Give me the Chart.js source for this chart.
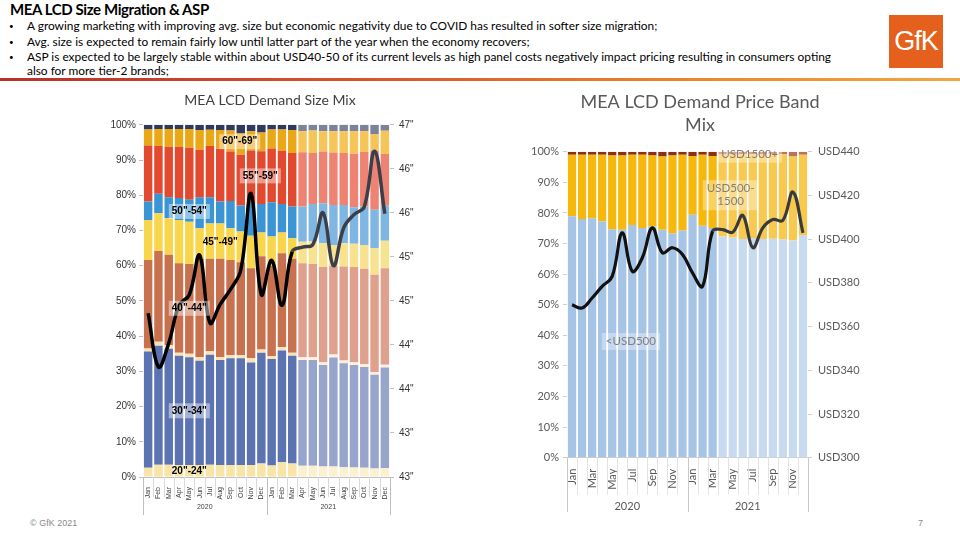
<!DOCTYPE html>
<html><head><meta charset="utf-8">
<script src="https://cdn.jsdelivr.net/npm/chart.js@4/dist/chart.umd.min.js"></script>
<style>
body{margin:0;width:960px;height:540px;background:#fff;position:relative;overflow:hidden;font-family:Lato,'Liberation Sans',sans-serif;}
#ttl{position:absolute;left:10px;top:0px;font-weight:bold;font-size:15px;letter-spacing:-0.4px;color:#000;white-space:nowrap;}
.bl{position:absolute;left:27px;font-size:11.9px;color:#000;white-space:nowrap;}
.bl .d{position:absolute;left:-18px;font-size:8px;top:3px;}
#rule{position:absolute;left:0;top:78px;width:960px;height:3px;background:linear-gradient(90deg,#b8302a 0%,#d9572a 40%,#ec8a2c 75%,#f2a641 100%);}
#logo{position:absolute;left:889px;top:15px;width:54px;height:53px;background:#e5601c;color:#fff;font-size:27px;font-family:'Liberation Sans Narrow','Liberation Sans',sans-serif;line-height:53px;text-align:center;letter-spacing:-1px;}
#foot{position:absolute;left:30px;top:518px;font-size:9px;color:#8a8a8a;font-family:'Liberation Sans',sans-serif;}
#pg{position:absolute;left:918px;top:518px;font-size:9px;color:#8a8a8a;font-family:'Liberation Sans',sans-serif;}
canvas{position:absolute;}
</style></head>
<body>
<div id="ttl">MEA LCD Size Migration &amp; ASP</div>
<div class="bl" style="top:18px"><span class="d">•</span>A growing marketing with improving avg. size but economic negativity due to COVID has resulted in softer size migration;</div>
<div class="bl" style="top:34px"><span class="d">•</span>Avg. size is expected to remain fairly low until latter part of the year when the economy recovers;</div>
<div class="bl" style="top:49px"><span class="d">•</span>ASP is expected to be largely stable within about USD40-50 of its current levels as high panel costs negatively impact pricing resulting in consumers opting</div>
<div class="bl" style="top:63px">also for more tier-2 brands;</div>
<div id="rule"></div>
<div id="logo">GfK</div>
<div id="foot">© GfK 2021</div>
<div id="pg">7</div>
<canvas id="c1" width="340" height="432" style="left:100px;top:88px"></canvas>
<canvas id="c2" width="360" height="435" style="left:520px;top:85px"></canvas>
<script>
// ---------- DATA ----------
const categories = ['Jan','Feb','Mar','Apr','May','Jun','Jul','Aug','Sep','Oct','Nov','Dec',
                    'Jan','Feb','Mar','Apr','May','Jun','Jul','Aug','Sep','Oct','Nov','Dec'];
const years = ['2020','2021'];
const forecastStart = 15; // Apr 2021 onward drawn lighter

// Size mix shares (%), bottom to top
const size20_24 = [2.6,3.5,3.5,3.4,3.4,3.4,3.5,3.4,3.4,3.4,3.4,3.8,3.3,4.2,3.8,3.2,3.2,3.0,3.0,2.8,2.7,2.6,2.4,2.5];
const size30_34 = [33.0,33.8,32.9,31.0,30.6,29.6,31.2,29.8,30.3,30.3,29.1,31.5,30.2,31.7,30.6,30.0,30.0,28.8,30.9,29.5,29.1,28.6,26.6,28.6];
const size35_39 = [0.9,1.1,1.0,0.9,1.0,1.0,1.0,0.9,0.9,0.9,1.2,0.9,0.8,1.0,0.9,0.8,0.8,0.8,0.9,0.8,0.8,0.8,0.8,0.8];
const size40_44 = [25.1,25.8,25.7,25.4,25.5,28.0,26.3,27.9,27.0,26.4,25.6,26.5,25.7,26.6,26.7,26.7,26.5,27.0,25.2,26.7,27.0,27.1,27.6,27.4];
const size45_49 = [11.4,10.7,10.4,12.3,12.0,8.6,10.0,10.0,9.0,8.7,9.2,6.7,8.3,5.9,5.8,6.1,6.5,6.8,5.9,6.6,6.6,6.8,7.6,7.8];
const size50_54 = [5.2,5.5,5.9,6.2,6.2,8.8,7.4,6.2,7.8,7.4,9.3,8.1,9.7,8.1,9.0,10.0,10.5,11.3,11.3,10.8,10.4,10.9,10.9,9.9];
const size55_59 = [15.9,13.6,14.4,14.6,14.8,13.5,14.6,15.0,14.0,14.4,14.9,15.0,15.3,15.1,15.2,15.4,14.5,14.7,14.9,14.8,15.2,15.5,16.8,14.7];
const size60_69 = [4.6,4.8,5.0,5.0,5.3,5.6,4.6,5.3,6.0,6.1,5.5,5.3,5.4,6.1,6.5,6.0,6.4,5.8,6.1,6.2,6.4,5.9,4.7,6.6];
const size70up  = [1.3,1.2,1.2,1.2,1.2,1.5,1.4,1.5,1.6,2.4,1.8,2.2,1.3,1.3,1.5,1.8,1.6,1.8,1.8,1.8,1.8,1.8,2.6,1.7];
const avgSize   = [44.66,44.05,44.32,44.75,44.87,45.32,44.55,44.76,44.93,45.15,46.02,44.87,45.26,44.75,45.36,45.41,45.44,45.80,45.20,45.63,45.78,45.87,46.50,45.79];

// Price band shares (%), bottom to top
const priceLow  = [78.9,78.0,78.3,77.2,74.7,74.5,76.1,75.1,75.6,74.5,73.4,74.3,79.4,75.8,75.1,72.3,72.0,71.5,71.8,71.5,71.6,71.3,71.0,72.8];
const priceMid  = [20.1,21.0,20.7,21.8,24.1,24.3,22.9,23.9,23.2,24.0,25.4,24.7,19.2,23.2,23.5,26.9,27.2,27.7,27.4,27.7,27.6,27.9,27.5,26.2];
const priceHigh = [1.0,1.0,1.0,1.0,1.2,1.2,1.0,1.0,1.2,1.5,1.2,1.0,1.4,1.0,1.4,0.8,0.8,0.8,0.8,0.8,0.8,0.8,1.5,1.0];
const asp       = [370.0,368.5,373.1,378.4,383.0,402.9,385.3,391.5,405.2,393.8,396.1,393.0,384.6,378.4,403.7,404.4,403.2,410.9,396.1,405.2,409.0,408.6,421.6,402.9];

// ---------- HELPERS ----------
function shade(dark, light){ return categories.map((_, i) => i < forecastStart ? dark : light); }

const yearRow = {
  id:'yearRow',
  afterDraw(chart, args, o){
    const {ctx, scales:{x}, chartArea} = chart;
    const step = x.getPixelForValue(1) - x.getPixelForValue(0);
    const top = chartArea.bottom;
    ctx.save();
    ctx.lineWidth = 1;
    ctx.strokeStyle = o.monthLine;
    for (let i = 1; i < categories.length; i++){
      if (i % 12 === 0) continue;
      const px = Math.round(x.getPixelForValue(i) - step/2) + 0.5;
      ctx.beginPath(); ctx.moveTo(px, top); ctx.lineTo(px, top + o.monthLen); ctx.stroke();
    }
    ctx.strokeStyle = o.yearLine;
    for (let b = 0; b <= categories.length; b += 12){
      const px = Math.round(x.getPixelForValue(b) - step/2) + 0.5;
      ctx.beginPath(); ctx.moveTo(px, top); ctx.lineTo(px, o.sepBottom); ctx.stroke();
    }
    ctx.fillStyle = o.color; ctx.font = o.font;
    ctx.textAlign = 'center'; ctx.textBaseline = 'middle';
    years.forEach((yr, k) => {
      const cx = (x.getPixelForValue(k*12) + x.getPixelForValue(k*12 + 11)) / 2;
      ctx.fillText(yr, cx, o.textY);
    });
    ctx.restore();
  }
};

const boxLabels = {
  id:'boxLabels',
  afterDatasetsDraw(chart, args, o){
    const {ctx, scales} = chart;
    ctx.save();
    ctx.font = o.font;
    o.items.forEach(it => {
      const cx = scales.x.getPixelForValue(it.at);
      const cy = scales.y.getPixelForValue(it.pct);
      const lines = it.text.split('\n');
      const w = Math.max(...lines.map(l => ctx.measureText(l).width)) + 2*o.padX;
      const h = lines.length*o.lineH + 2*o.padY;
      ctx.fillStyle = it.box || o.box;
      ctx.fillRect(cx - w/2, cy - h/2, w, h);
      ctx.fillStyle = it.color || o.color;
      ctx.textAlign = 'center'; ctx.textBaseline = 'middle';
      lines.forEach((l, i) => ctx.fillText(l, cx, cy - h/2 + o.padY + o.lineH*(i + 0.5)));
    });
    ctx.restore();
  }
};

function barDs(label, data, dark, light){
  return {type:'bar', label, data, yAxisID:'y', order:1, backgroundColor: shade(dark, light),
          barPercentage:0.82, categoryPercentage:1.0, borderWidth:0};
}

// ---------- LEFT CHART ----------
const armo = {family:'Liberation Sans', size:10};
new Chart(document.getElementById('c1'), {
  type:'bar',
  data:{
    labels: categories,
    datasets:[
      {type:'line', label:'Avg. size', data:avgSize, yAxisID:'y2', order:0, borderColor:'#000', borderWidth:3.5,
       tension:0.4, pointRadius:0, fill:false,
       segment:{borderColor: c => c.p0DataIndex >= forecastStart - 1 ? '#3c3f48' : '#000'}},
      barDs('20"-24"', size20_24, '#f7e4a6', '#fbf0cf'),
      barDs('30"-34"', size30_34, '#5b73b1', '#97a5cd'),
      barDs('35"-39"', size35_39, '#f9e2b6', '#fcefdc'),
      barDs('40"-44"', size40_44, '#c8714f', '#dfa08e'),
      barDs('45"-49"', size45_49, '#f8d64c', '#f7e38f'),
      barDs('50"-54"', size50_54, '#3b95d4', '#80b6e2'),
      barDs('55"-59"', size55_59, '#e2492f', '#ee8373'),
      barDs('60"-69"', size60_69, '#eaa716', '#f6c559'),
      barDs('70"+', size70up, '#2e3b5e', '#7c8399')
    ]
  },
  options:{
    responsive:false, animation:false, devicePixelRatio:1,
    layout:{padding:0},
    plugins:{
      legend:{display:false}, tooltip:{enabled:false},
      title:{display:true, text:'MEA LCD Demand Size Mix', color:'#404040', font:{family:'Lato', size:14, weight:'normal'}, padding:{top:4, bottom:16}},
      yearRow:{monthLine:'#d9d9d9', yearLine:'#bfbfbf', monthLen:20, sepBottom:427, textY:419, font:'7px "Liberation Sans"', color:'#404040'},
      boxLabels:{font:'bold 10px "Liberation Sans"', color:'#000', box:'rgba(255,255,255,0.45)', padX:3, padY:2, lineH:11,
        items:[
          {text:'60"-69"', at:8.9, pct:95.2},
          {text:'55"-59"', at:10.9, pct:85.5},
          {text:'50"-54"', at:4.0, pct:75.4},
          {text:'45"-49"', at:7.0, pct:66.7, box:'rgba(255,255,255,0)'},
          {text:'40"-44"', at:4.0, pct:47.9},
          {text:'30"-34"', at:4.0, pct:18.8},
          {text:'20"-24"', at:4.0, pct:1.6, box:'rgba(255,255,255,0)'}
        ]}
    },
    scales:{
      x:{stacked:true, grid:{display:false}, border:{color:'#bfbfbf'},
         ticks:{autoSkip:false, minRotation:90, maxRotation:90, font:{family:'Liberation Sans', size:7}, color:'#404040', padding:2,
                callback:(v, i) => categories[i]},
         afterFit:s => { s.height = 43; }},
      y:{stacked:true, min:0, max:100, border:{display:false},
         grid:{drawOnChartArea:false, tickLength:4, color:'#bfbfbf'},
         ticks:{stepSize:10, callback:v => v + '%', font:armo, color:'#333', padding:3},
         afterFit:s => { s.width = 43; }},
      y2:{position:'right', min:42.8, max:46.8, border:{display:false},
         grid:{drawOnChartArea:false, tickLength:4, color:'#bfbfbf'},
         ticks:{stepSize:0.5, callback:v => Math.round(v) + '"', font:armo, color:'#333', padding:5},
         afterFit:s => { s.width = 50; }}
    }
  },
  plugins:[yearRow, boxLabels]
});

// ---------- RIGHT CHART ----------
const lato = {family:'Lato', size:11};
new Chart(document.getElementById('c2'), {
  type:'bar',
  data:{
    labels: categories,
    datasets:[
      {type:'line', label:'ASP', data:asp, yAxisID:'y2', order:0, borderColor:'#111', borderWidth:3.2,
       tension:0.4, pointRadius:0, fill:false,
       segment:{borderColor: c => c.p0DataIndex >= forecastStart - 1 ? '#3a3a3a' : '#111'}},
      barDs('<USD500', priceLow, '#a6c4e6', '#c7daf0'),
      barDs('USD500-1500', priceMid, '#f6b80c', '#f8c94e'),
      barDs('USD1500+', priceHigh, '#8d2f12', '#b9735b')
    ]
  },
  options:{
    responsive:false, animation:false, devicePixelRatio:1,
    layout:{padding:0},
    plugins:{
      legend:{display:false}, tooltip:{enabled:false},
      title:{display:true, text:['MEA LCD Demand Price Band','Mix'], color:'#595959', font:{family:'Lato', size:18, weight:'normal', lineHeight:1.3}, padding:{top:5, bottom:15}},
      yearRow:{monthLine:'#e3e3e3', yearLine:'#c8c8c8', monthLen:37, sepBottom:427, textY:421, font:'11px Lato', color:'#595959'},
      boxLabels:{font:'11.5px Lato', color:'#7f7f7f', box:'rgba(255,255,255,0.35)', padX:4, padY:2, lineH:13,
        items:[
          {text:'<USD500', at:5.86, pct:38.0},
          {text:'USD500-\n1500', at:15.8, pct:85.8},
          {text:'USD1500+', at:17.7, pct:99.2, color:'#8a7a70'}
        ]}
    },
    scales:{
      x:{stacked:true, grid:{display:false}, border:{color:'#d0d0d0'},
         ticks:{autoSkip:false, minRotation:90, maxRotation:90, font:lato, color:'#595959', padding:3,
                callback:(v, i) => i % 2 === 0 ? categories[i] : ''},
         afterFit:s => { s.height = 62.3; }},
      y:{stacked:true, min:0, max:100, border:{display:false},
         grid:{drawOnChartArea:false, tickLength:4, color:'#d0d0d0'},
         ticks:{stepSize:10, callback:v => v + '%', font:lato, color:'#595959', padding:4},
         afterFit:s => { s.width = 47; }},
      y2:{position:'right', min:300, max:440, border:{display:false},
         grid:{drawOnChartArea:false, tickLength:4, color:'#d0d0d0'},
         ticks:{stepSize:20, callback:v => 'USD' + v, font:lato, color:'#595959', padding:6},
         afterFit:s => { s.width = 72; }}
    }
  },
  plugins:[yearRow, boxLabels]
});
</script>
</body></html>
